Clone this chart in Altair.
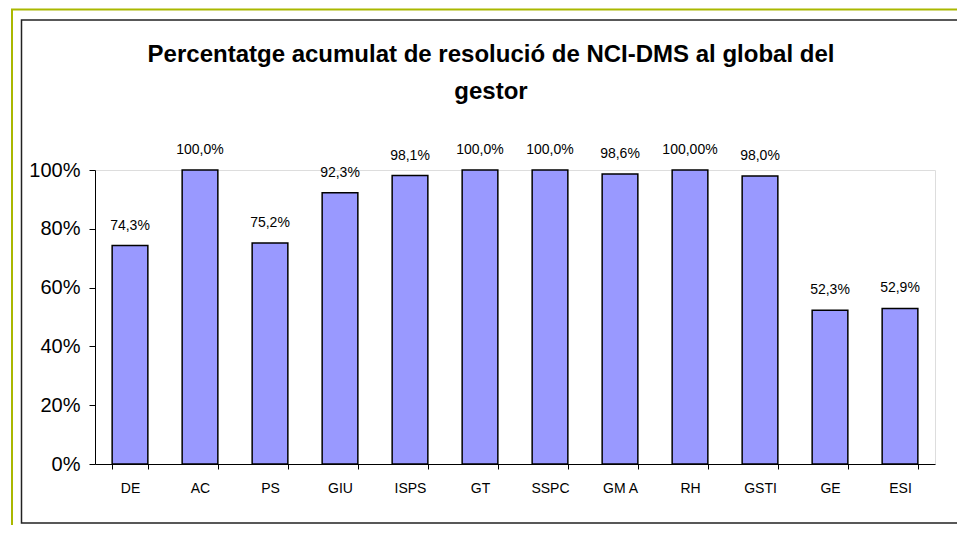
import altair as alt
import pandas as pd

categories = ["DE", "AC", "PS", "GIU", "ISPS", "GT", "SSPC", "GM A", "RH", "GSTI", "GE", "ESI"]
values = [74.3, 100.0, 75.2, 92.3, 98.1, 100.0, 100.0, 98.6, 100.0, 98.0, 52.3, 52.9]
labels = ["74,3%", "100,0%", "75,2%", "92,3%", "98,1%", "100,0%", "100,0%", "98,6%", "100,00%", "98,0%", "52,3%", "52,9%"]
y_ticks = [0, 20, 40, 60, 80, 100]
title_lines = ["Percentatge acumulat de resolució de NCI-DMS al global del", "gestor"]

df = pd.DataFrame({"cat": categories, "val": values, "lab": labels})

W, H = 840, 294
PL, PT = 87, 162

x = alt.X("cat:N", sort=categories, title=None,
          scale=alt.Scale(paddingInner=0.49, paddingOuter=0.245),
          axis=alt.Axis(labelAngle=0, labelFontSize=14, labelColor="black",
                        labelPadding=12, tickBand="extent", tickSize=5,
                        tickColor="black", domainColor="black", labelFont="Liberation Sans"))
y = alt.Y("val:Q", title=None,
          scale=alt.Scale(domain=[0, 100], nice=False),
          axis=alt.Axis(values=y_ticks, labelExpr="datum.value + '%'", labelFontSize=20,
                        labelColor="black", tickSize=6, tickColor="black",
                        domainColor="black", grid=False, labelPadding=9,
                        labelFont="Liberation Sans"))

bars = alt.Chart(df).mark_bar(color="#9999FF", stroke="black", strokeWidth=1.5).encode(x=x, y=y)
text = alt.Chart(df).mark_text(baseline="bottom", dy=-13, fontSize=14,
                               font="Liberation Sans", color="black").encode(
    x=alt.X("cat:N", sort=categories), y="val:Q", text="lab:N")

frame_df = pd.DataFrame({"k": [0]})
olive = alt.Chart(frame_df).mark_rect(fill=None, stroke="#AAB800", strokeWidth=2).encode(
    x=alt.value(4 - PL), x2=alt.value(W + 200), y=alt.value(1.5 - PT), y2=alt.value(H + 200))
black = alt.Chart(frame_df).mark_rect(fill=None, stroke="#222222", strokeWidth=1.5).encode(
    x=alt.value(13.5 - PL), x2=alt.value(W + 200), y=alt.value(12 - PT), y2=alt.value(515 - PT))

t1 = alt.Chart(pd.DataFrame({"t": [title_lines[0]]})).mark_text(
    font="Liberation Sans", fontSize=24, fontWeight="bold", color="black",
    align="center", baseline="middle").encode(
    text="t:N", x=alt.value(483 - PL), y=alt.value(47 - PT))
t2 = alt.Chart(pd.DataFrame({"t": [title_lines[1]]})).mark_text(
    font="Liberation Sans", fontSize=24, fontWeight="bold", color="black",
    align="center", baseline="middle").encode(
    text="t:N", x=alt.value(483 - PL), y=alt.value(84 - PT))

chart = alt.layer(olive, black, t1, t2, bars, text).properties(
    width=W, height=H,
    autosize=alt.AutoSizeParams(type="none"),
    padding={"left": PL, "top": PT, "right": 949 - PL - W, "bottom": 517 - PT - H},
).configure_view(stroke=None).configure(background="white")

chart.save("out.html", embed_options={"renderer": "svg", "actions": False})
